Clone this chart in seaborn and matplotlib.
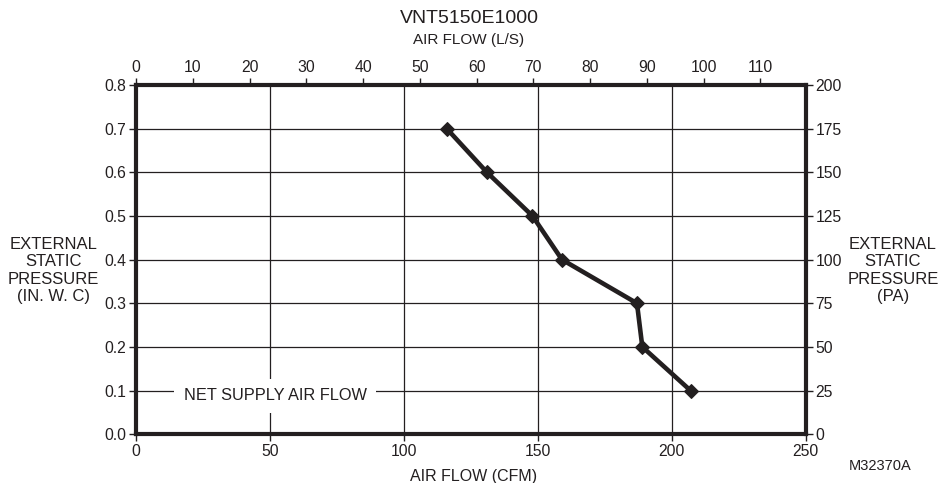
import numpy as np
import pandas as pd
import seaborn as sns
import matplotlib.pyplot as plt

# fan curve
cfm = [116, 131, 148, 159, 187, 189, 207]
pressure = [0.7, 0.6, 0.5, 0.4, 0.3, 0.2, 0.1]
x_ticks = [0, 50, 100, 150, 200, 250]
y_ticks = [0.0, 0.1, 0.2, 0.3, 0.4, 0.5, 0.6, 0.7, 0.8]
ls_ticks = [0, 10, 20, 30, 40, 50, 60, 70, 80, 90, 100, 110]
pa_ticks = [0, 25, 50, 75, 100, 125, 150, 175, 200]

df = pd.DataFrame({'cfm': cfm, 'pressure': pressure})

sns.set_style("white")
plt.rcParams['font.family'] = ['Liberation Sans', 'DejaVu Sans']
ink = '#231f20'

fig = plt.figure(figsize=(9.38, 4.83), dpi=100)
ax = fig.add_axes([0.145, 0.101, 0.714, 0.723])

ax.set_xlim(0, 250)
ax.set_ylim(0, 0.8)
for v in x_ticks[1:-1]:
    ax.axvline(v, color=ink, lw=0.9, zorder=1)
for v in y_ticks[1:-1]:
    ax.axhline(v, color=ink, lw=0.9, zorder=1)

sns.lineplot(data=df, x='cfm', y='pressure', sort=False, ax=ax, color=ink,
             lw=3.3, marker='D', markersize=7, markeredgecolor=ink, zorder=3)

ax.text(52, 0.088, 'NET SUPPLY AIR FLOW', ha='center', va='center', fontsize=11.8,
        color=ink, zorder=4,
        bbox=dict(facecolor='white', edgecolor='none', pad=7))

ax.set_xticks(x_ticks)
ax.set_yticks(y_ticks)
ax.set_yticklabels([f'{v:.1f}' for v in y_ticks])
ax.set_xlabel('AIR FLOW (CFM)', fontsize=11.5, color=ink)
ax.xaxis.set_label_coords(0.504, -0.10)
ax.set_ylabel('')
ax.tick_params(axis='both', direction='out', length=5, width=1, colors=ink,
               labelsize=11.3, pad=2, bottom=True, left=True)
for s in ax.spines.values():
    s.set_linewidth(3)
    s.set_color(ink)

# top axis in L/S
top = ax.secondary_xaxis('top', functions=(lambda c: c / 2.1189, lambda l: l * 2.1189))
top.set_xticks(ls_ticks)
top.tick_params(direction='out', length=5, width=1, colors=ink, labelsize=11.3, pad=2)

# right axis in Pa
right = ax.secondary_yaxis('right', functions=(lambda p: p * 250, lambda pa: pa / 250))
right.set_yticks(pa_ticks)
right.tick_params(direction='out', length=5, width=1, colors=ink, labelsize=11.3, pad=2)

fig.text(0.5, 0.962, 'VNT5150E1000', ha='center', va='center', fontsize=14, color=ink)
fig.text(0.5, 0.918, 'AIR FLOW (L/S)', ha='center', va='center', fontsize=11, color=ink)
fig.text(0.057, 0.44, 'EXTERNAL\nSTATIC\nPRESSURE\n(IN. W. C)', ha='center', va='center',
         fontsize=12, color=ink, linespacing=1.2)
fig.text(0.952, 0.44, 'EXTERNAL\nSTATIC\nPRESSURE\n(PA)', ha='center', va='center',
         fontsize=12, color=ink, linespacing=1.2)
fig.text(0.938, 0.035, 'M32370A', ha='center', va='center', fontsize=10.5, color=ink)

fig.savefig('out.png', dpi=100)
